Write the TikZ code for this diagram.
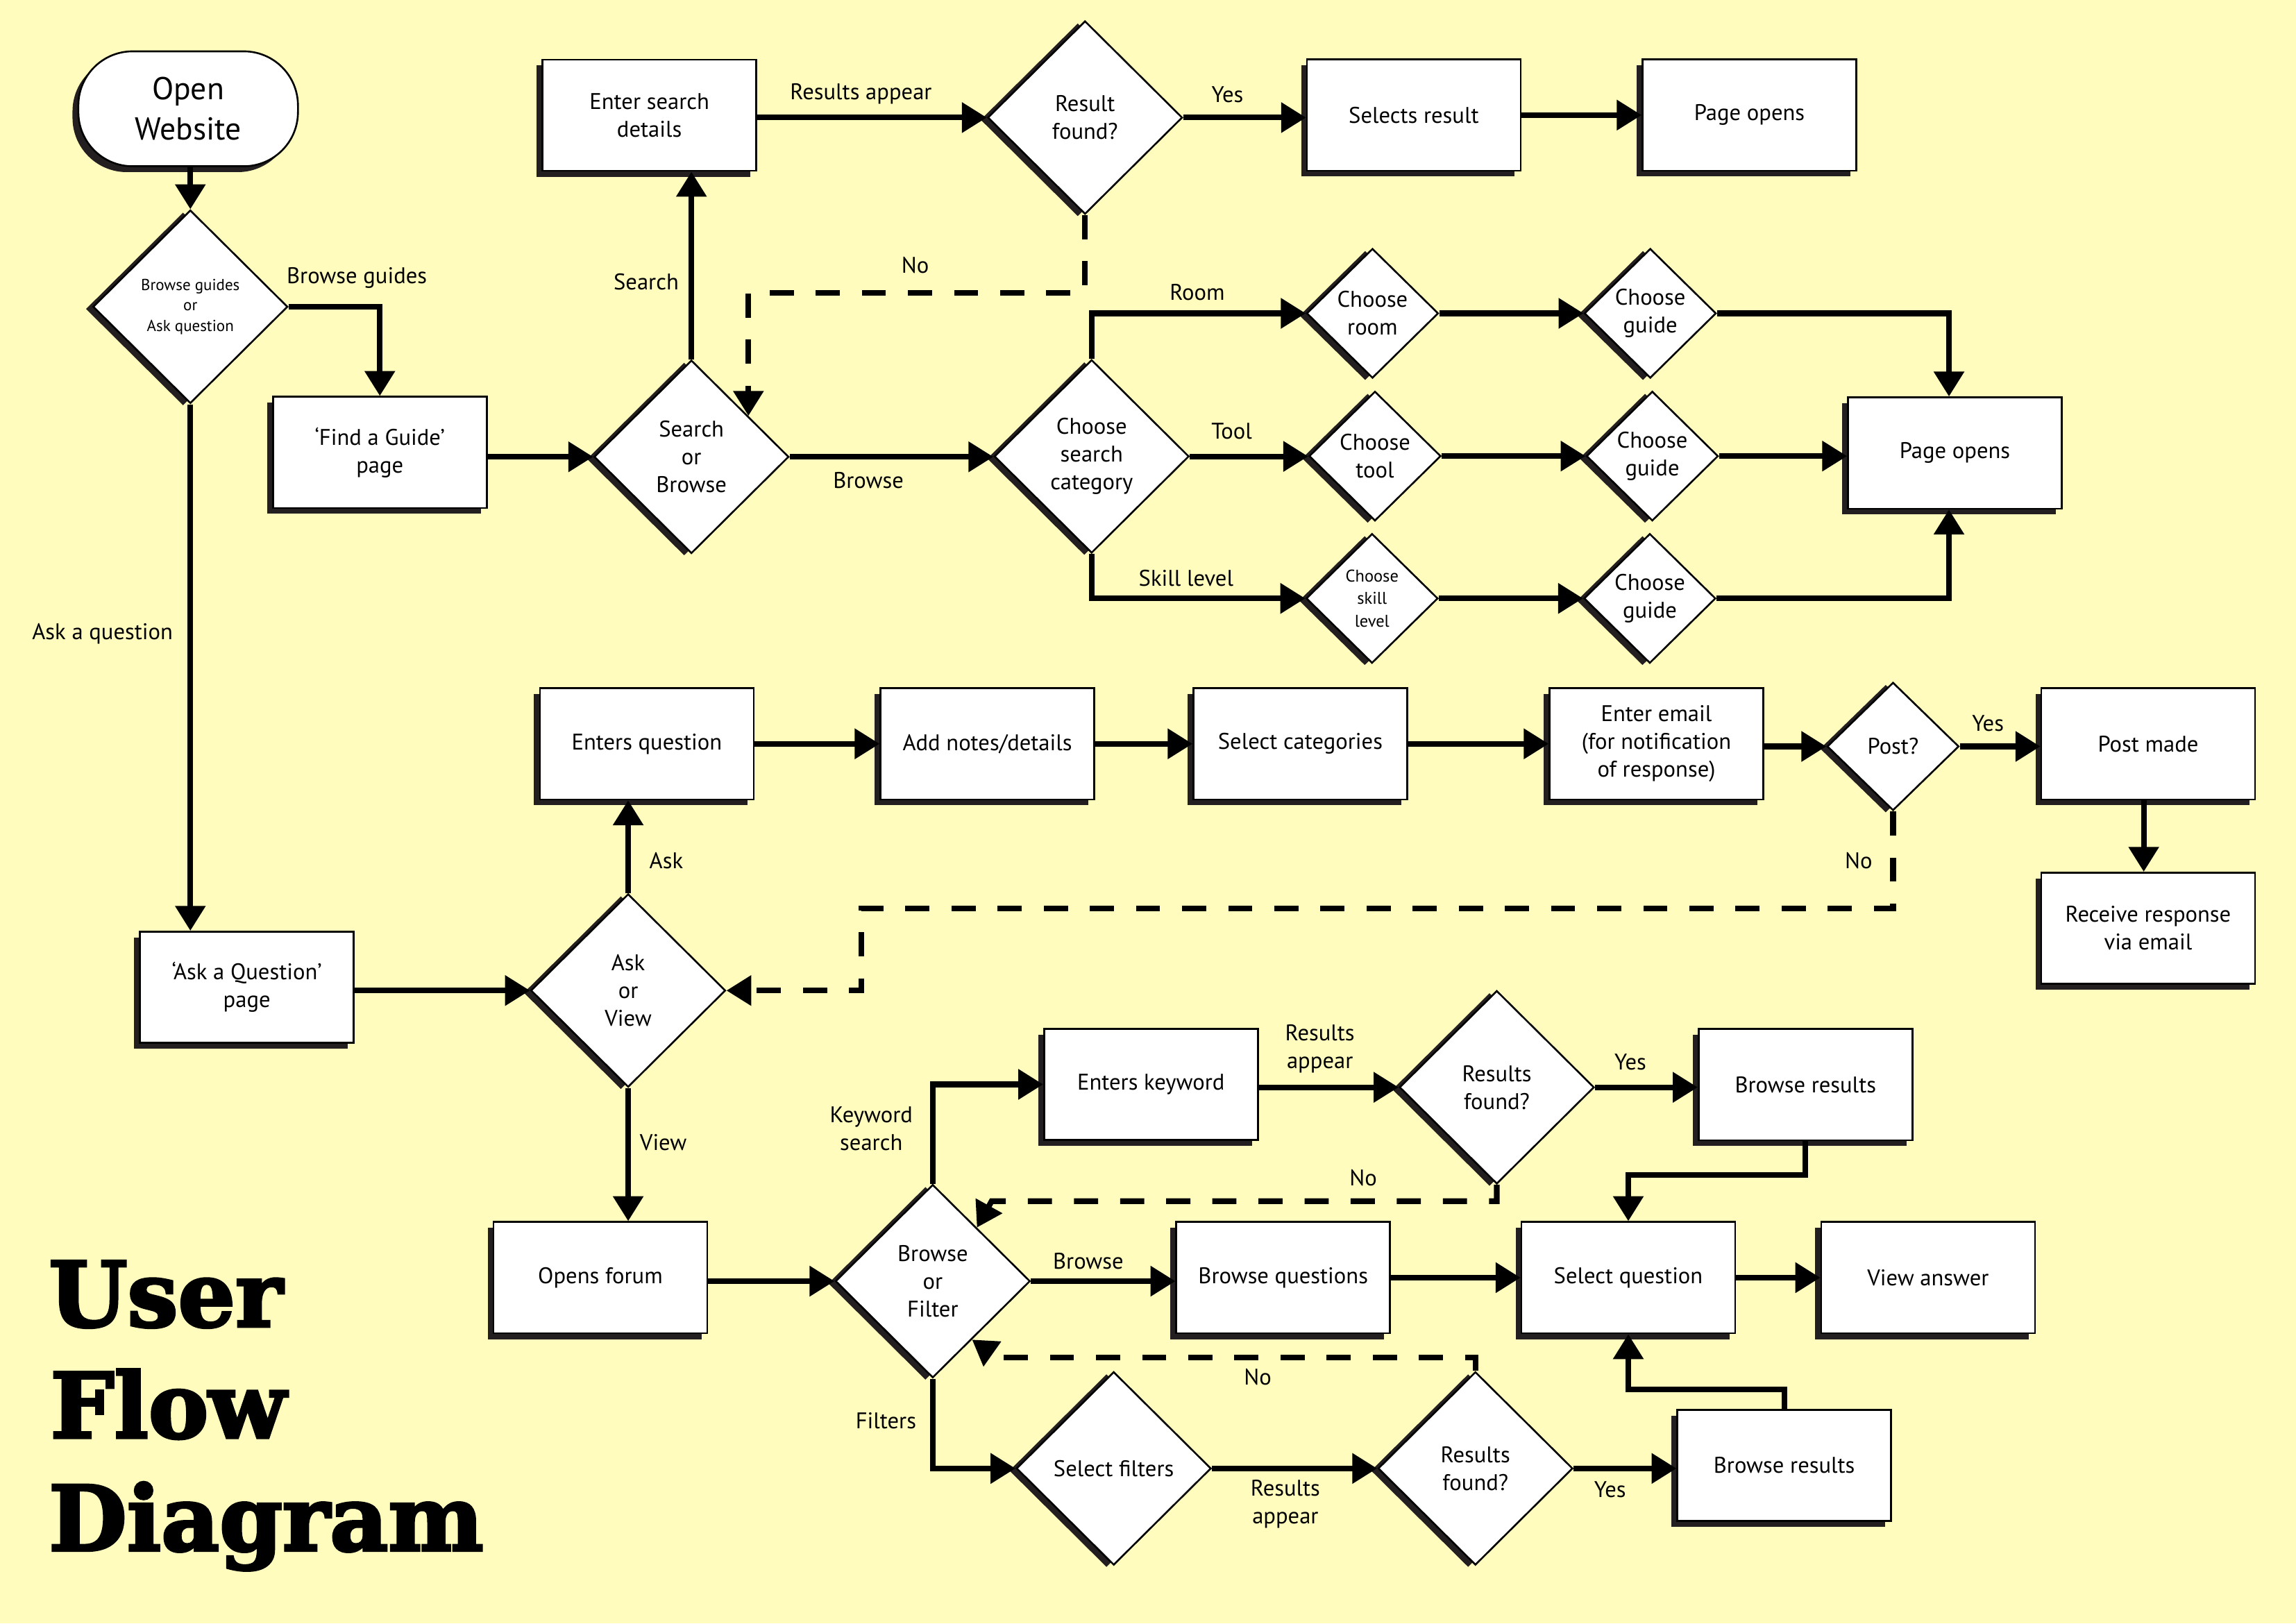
\documentclass[tikz,border=0pt]{standalone}
\usepackage{fontspec}
\setmainfont{PT Sans}
\newfontfamily\titlefont{DejaVu Serif}[BoldFeatures={FakeBold=3}]
\usetikzlibrary{shapes.geometric,arrows.meta,shadows,calc}
\definecolor{bgcol}{HTML}{FFFCBE}
\definecolor{shadowcol}{HTML}{231F20}
\tikzset{
  every node/.style={font=\fontsize{8.8}{10.8}\selectfont},
  box/.style={rectangle, draw=black, line width=0.7pt, fill=white,
    minimum width=2.92cm, minimum height=1.52cm, align=center, inner sep=0pt,
    general shadow={fill=shadowcol, shadow xshift=-0.08cm, shadow yshift=-0.08cm}},
  stadium/.style={box, rounded corners=0.74cm, minimum width=3cm, minimum height=1.57cm,
    font=\fontsize{12.3}{15.7}\selectfont},
  dia/.style={diamond, draw=black, line width=0.7pt, fill=white, aspect=1,
    minimum width=2.66cm, minimum height=2.64cm, inner sep=0pt, align=center,
    general shadow={fill=shadowcol, shadow xshift=-0.1cm, shadow yshift=-0.03cm}},
  sdia/.style={dia, minimum width=1.8cm, minimum height=1.77cm},
  conn/.style={line width=2.2pt, -{Triangle[length=0.34cm,width=0.4cm]}},
  dconn/.style={conn, dash pattern=on 0.33cm off 0.3cm},
  lbl/.style={inner sep=0pt, align=center},
  ttl/.style={inner sep=0pt, anchor=base west, font=\titlefont\bfseries\fontsize{35}{40}\selectfont},
}
\begin{document}
\begin{tikzpicture}[x=0.02cm, y=-0.02cm]
\fill[bgcol] (0,0) rectangle (1568,1108.7);
\useasboundingbox (0,0) rectangle (1568,1108.7);

% ---------- top section ----------
\node[stadium] (open) at (128.5,74.3) {Open\\Website};
\node[dia, font=\fontsize{6.2}{8}\selectfont] (d1) at (130,209.5) {Browse guides\\or\\Ask question};
\node[box] (fg) at (259.4,309) {‘Find a Guide’\\page};
\node[dia] (sb) at (472.2,312) {Search\\or\\Browse};
\node[box] (esd) at (443.5,78.7) {Enter search\\details};
\node[dia] (rf) at (741,80.3) {Result\\found?};
\node[box] (sr) at (965.5,78.6) {Selects result};
\node[box] (po1) at (1194.7,78.6) {Page opens};
\node[dia] (csc) at (745.5,311.7) {Choose\\search\\category};
\node[sdia] (cr) at (937.3,214) {Choose\\room};
\node[sdia] (cg1) at (1127,214) {Choose\\guide};
\node[sdia] (ct) at (939,311.5) {Choose\\tool};
\node[sdia] (cg2) at (1128.4,311.5) {Choose\\guide};
\node[sdia, font=\fontsize{6.6}{8.8}\selectfont] (cs) at (937,408.7) {Choose\\skill\\level};
\node[sdia] (cg3) at (1126.7,408.7) {Choose\\guide};
\node[box] (po2) at (1335,309.4) {Page opens};

% ---------- ask section ----------
\node[box] (aq) at (168.6,674.3) {‘Ask a Question’\\page};
\node[dia] (av) at (429,676.5) {Ask\\or\\View};
\node[box] (eq) at (441.7,508) {Enters question};
\node[box] (an) at (674.3,508) {Add notes/details};
\node[box] (sc) at (888,508) {Select categories};
\node[box] (ee) at (1131.2,508) {Enter email\\(for notification\\of response)};
\node[sdia, minimum height=1.75cm] (post) at (1292.8,509.8) {Post?};
\node[box] (pm) at (1467,508) {Post made};
\node[box] (rr) at (1467,634) {Receive response\\via email};

% ---------- view section ----------
\node[box] (of) at (410,872.6) {Opens forum};
\node[dia] (bf) at (637,875) {Browse\\or\\Filter};
\node[box] (ek) at (786,740.6) {Enters keyword};
\node[dia] (rf2) at (1022.2,742.6) {Results\\found?};
\node[box] (br1) at (1233,740.8) {Browse results};
\node[box] (bq) at (876.3,872.6) {Browse questions};
\node[box] (sq) at (1112,872.6) {Select question};
\node[box] (va) at (1316.7,872.6) {View answer};
\node[dia] (sf) at (760.6,1002.9) {Select filters};
\node[dia] (rf3) at (1007.6,1002.9) {Results\\found?};
\node[box] (br2) at (1218.5,1000.8) {Browse results};

% ---------- connectors: top ----------
\draw[conn] (open.south -| d1.north) -- (d1.north);
\draw[conn] (d1.east) -| (fg.north);
\draw[conn] (d1.south) -- (d1.south |- aq.north);
\draw[conn] (fg.east |- sb.west) -- (sb.west);
\draw[conn] (sb.north) -- (sb.north |- esd.south);
\draw[conn] (esd.east |- rf.west) -- (rf.west);
\draw[conn] (rf.east) -- (rf.east -| sr.west);
\draw[conn] (sr.east) -- (po1.west);
\draw[dconn] (rf.south) -- ++(0,53) -| ($(sb.north)!0.58!(sb.east)$);
\draw[conn] (sb.east) -- (sb.east -| csc.west);
\draw[conn] (csc.north) |- (cr.west);
\draw[conn] (csc.east) -- (csc.east -| ct.west);
\draw[conn] (csc.south) |- (cs.west);
\draw[conn] (cr.east) -- (cg1.west);
\draw[conn] (ct.east) -- (cg2.west);
\draw[conn] (cs.east) -- (cg3.west);
\draw[conn] (cg1.east) -| ([xshift=-0.08cm]po2.north);
\draw[conn] (cg2.east) -- (cg2.east -| po2.west);
\draw[conn] (cg3.east) -| ([xshift=-0.08cm]po2.south);

% ---------- connectors: ask ----------
\draw[conn] (aq.east |- av.west) -- (av.west);
\draw[conn] (av.north) -- (av.north |- eq.south);
\draw[conn] (eq.east) -- (an.west);
\draw[conn] (an.east) -- (sc.west);
\draw[conn] (sc.east) -- (ee.west);
\draw[conn] (ee.east |- post.west) -- (post.west);
\draw[conn] (post.east) -- (post.east -| pm.west);
\draw[conn] ([xshift=-0.06cm]pm.south) -- ([xshift=-0.06cm]rr.north);
\draw[dconn] (post.south) |- ($(av.east)+(92,-56)$) |- (av.east);

% ---------- connectors: view ----------
\draw[conn] (av.south) -- (av.south |- of.north);
\draw[conn] (of.east |- bf.west) -- (bf.west);
\draw[conn] (bf.north) |- (ek.west);
\draw[conn] (ek.east |- rf2.west) -- (rf2.west);
\draw[conn] (rf2.east) -- (rf2.east -| br1.west);
\draw[conn] (br1.south) -- ++(0,23) -| (sq.north);
\draw[dconn] (rf2.south) |- ($($(bf.north)!0.45!(bf.east)$)+(10,-18)$) -- ($(bf.north)!0.45!(bf.east)$);
\draw[conn] (bf.east) -- (bf.east -| bq.west);
\draw[conn] (bq.east) -- (sq.west);
\draw[conn] (sq.east) -- (va.west);
\draw[conn] (bf.south) |- (sf.west);
\draw[conn] (sf.east) -- (rf3.west);
\draw[conn] (rf3.east) -- (rf3.east -| br2.west);
\draw[conn] (br2.north) -- ++(0,-13.4) -| (sq.south);
\draw[dconn] (rf3.north) |- ($($(bf.east)!0.6!(bf.south)$)+(17,12)$) -- ($(bf.east)!0.6!(bf.south)$);

% ---------- labels ----------
\node[lbl] (l1) at (243.7,189.8) {Browse guides};
\node[lbl] (l2) at (70,433) {Ask a question};
\node[lbl] (l3) at (441.3,192.7) {Search};
\node[lbl] (l4) at (588,64) {Results appear};
\node[lbl] (l5) at (838.3,64.5) {Yes};
\node[lbl] (l6) at (625,181) {No};
\node[lbl] (l7) at (593,328) {Browse};
\node[lbl] (l8) at (817.6,199.5) {Room};
\node[lbl] (l9) at (841.2,294.7) {Tool};
\node[lbl] (l10) at (810,395) {Skill level};
\node[lbl] (l11) at (455,587.8) {Ask};
\node[lbl] (l12) at (1357.6,494) {Yes};
\node[lbl] (l13) at (1269.3,587.8) {No};
\node[lbl] (l14) at (453,780.4) {View};
\node[lbl] (l15) at (595,771) {Keyword\\search};
\node[lbl] (l16) at (901.4,716.3) {Results\\appear};
\node[lbl] (l17) at (1113.4,725.2) {Yes};
\node[lbl] (l18) at (931,804.6) {No};
\node[lbl] (l19) at (743.2,861.4) {Browse};
\node[lbl] (l20) at (605,970.3) {Filters};
\node[lbl] (l21) at (877.8,1027.4) {Results\\appear};
\node[lbl] (l22) at (858.9,940.6) {No};
\node[lbl] (l23) at (1099.6,1017.5) {Yes};

% ---------- title ----------
\node[ttl] (t1) at (33,906) {User};
\node[ttl] (t2) at (34,982) {Flow};
\node[ttl] (t3) at (33,1059) {Diagram};
\end{tikzpicture}
\end{document}
